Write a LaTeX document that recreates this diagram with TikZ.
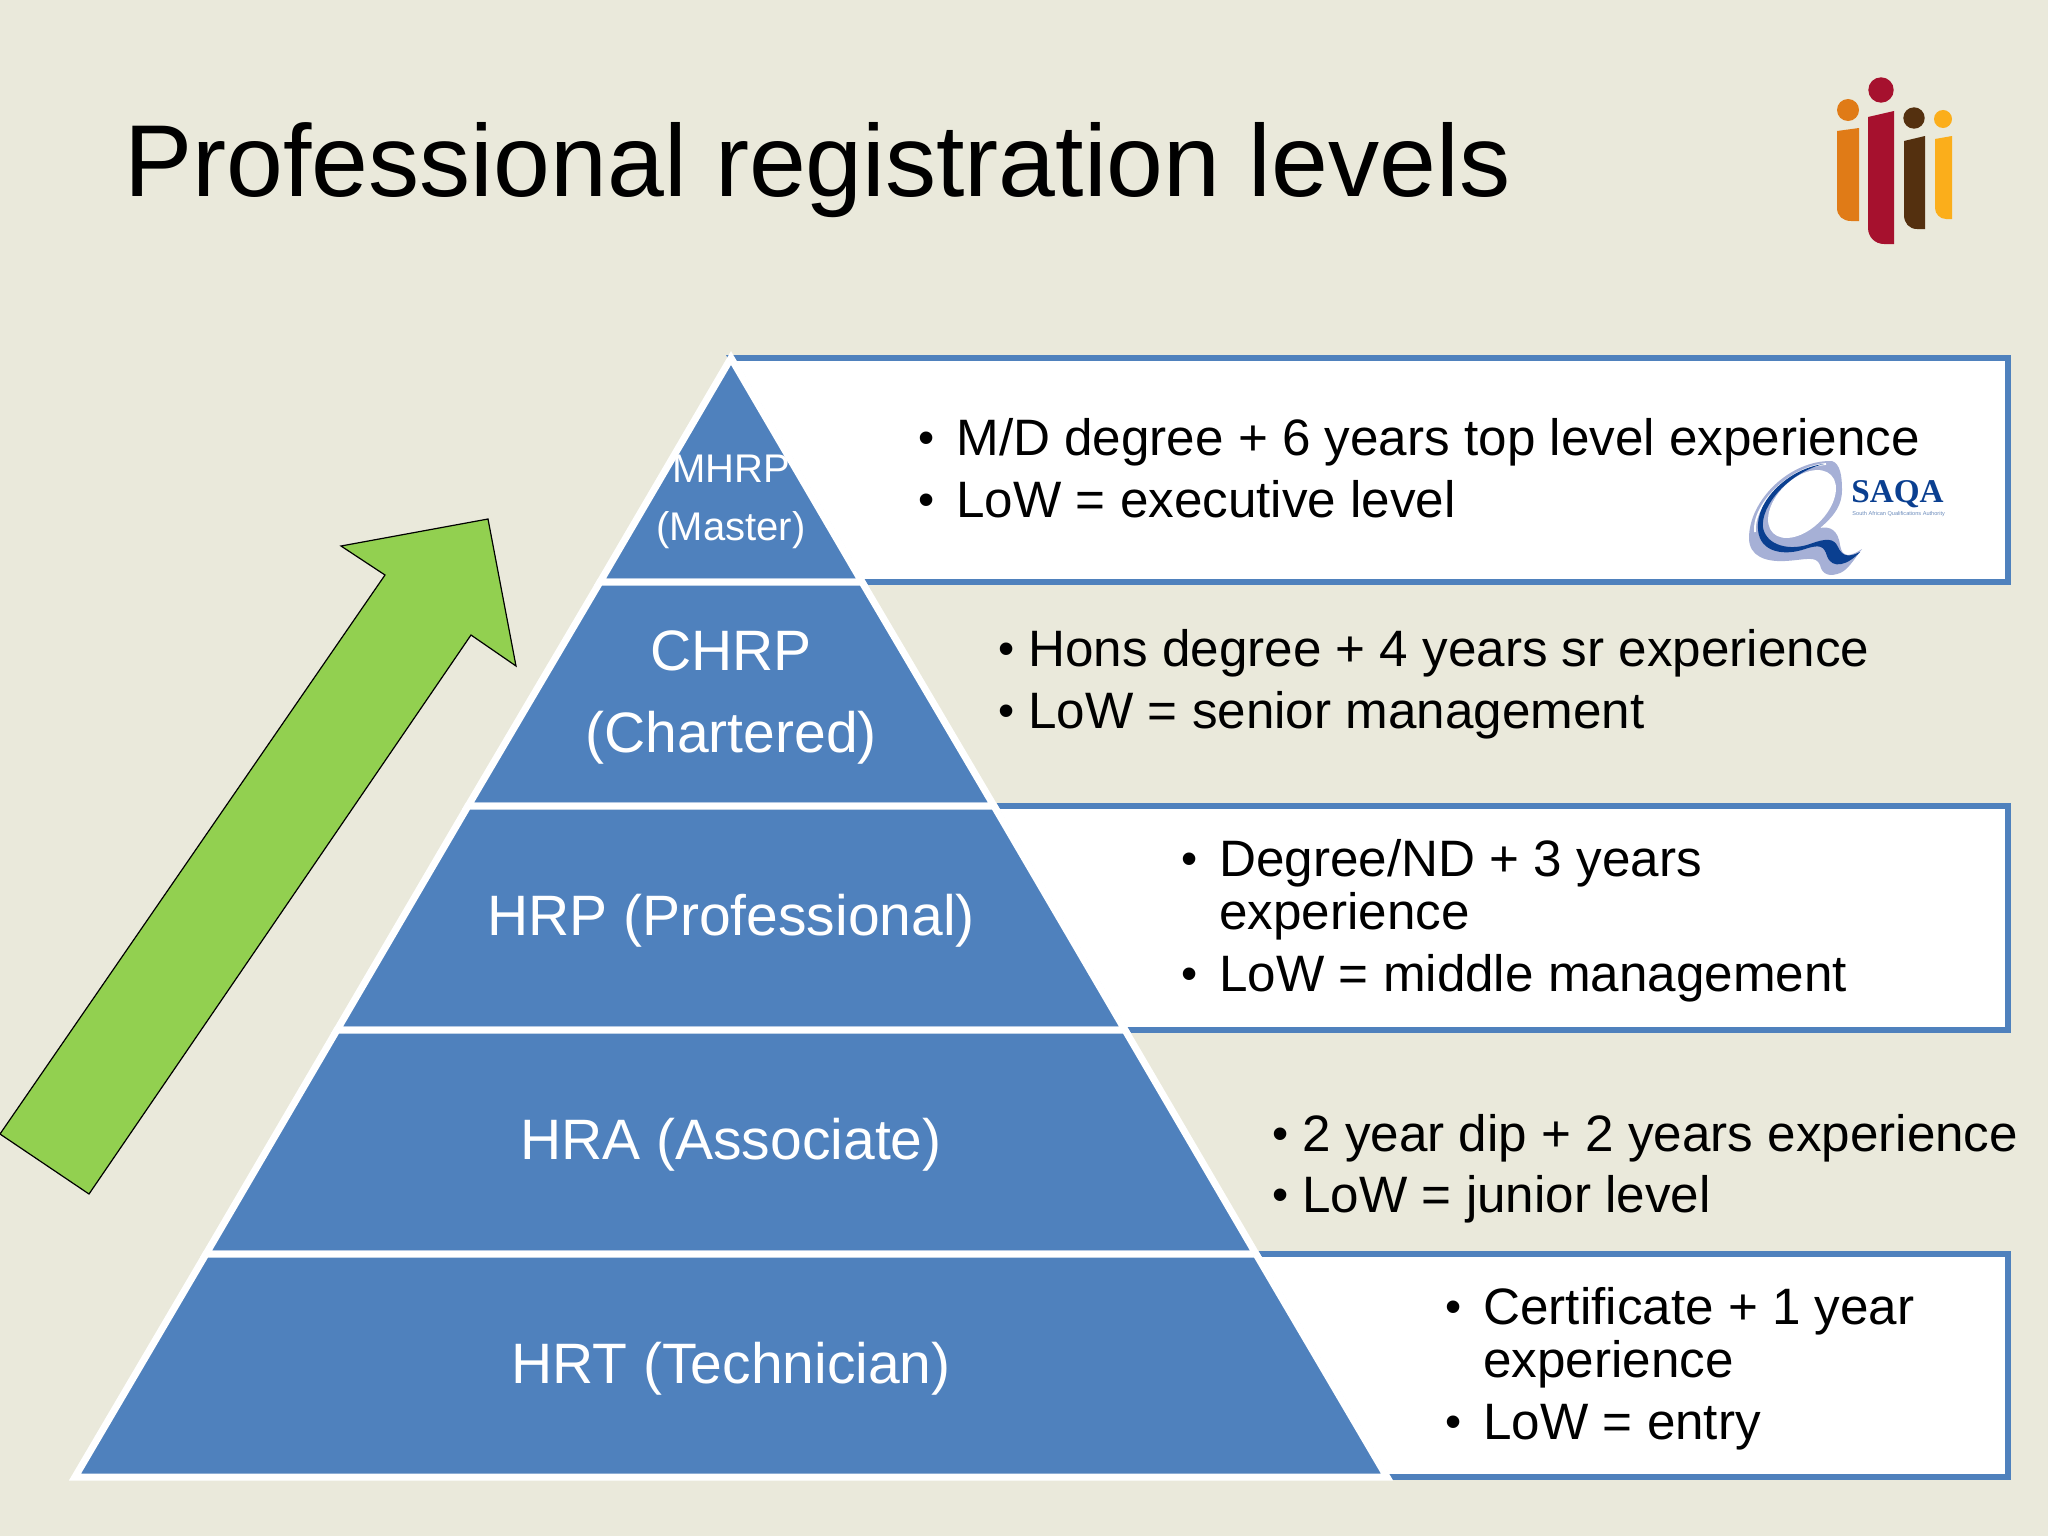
\documentclass[tikz,border=0pt]{standalone}
\usepackage{fontspec}
\setmainfont{Liberation Sans}
\newfontfamily\saqafont{Liberation Serif}
\definecolor{bgc}{HTML}{EAE9DB}
\definecolor{tier}{HTML}{4F81BD}
\definecolor{arrowg}{HTML}{92D050}
\definecolor{lgo}{HTML}{E07B17}
\definecolor{lgr}{HTML}{A6112E}
\definecolor{lgb}{HTML}{54300F}
\definecolor{lgy}{HTML}{FBAE1B}
\definecolor{qlight}{HTML}{A6B0D6}
\definecolor{qdark}{HTML}{0A3F90}
\newcommand{\bul}[1]{\llap{\raisebox{0.02em}{\scalebox{0.9}{•}}\hspace{#1}}}
\tikzset{
  tiershape/.style={fill=tier,draw=white,line width=3.5pt,line join=miter},
  boxshape/.style={fill=white,draw=tier,line width=2.8pt,line join=miter},
  tierlabel/.style={anchor=base,inner sep=0pt,text=white,font=\fontsize{28.5}{34}\selectfont},
  smalllabel/.style={anchor=base,inner sep=0pt,text=white,font=\fontsize{20}{24}\selectfont},
  bodyline/.style={anchor=base west,inner sep=0pt,text=black,font=\fontsize{25.6}{30}\selectfont},
}
\begin{document}
\begin{tikzpicture}[x=0.5pt,y=-0.5pt]
\useasboundingbox (0,0) rectangle (2048,1536);
\fill[bgc] (0,0) rectangle (2048,1536);
% title
\node[anchor=base west,inner sep=0pt,font=\fontsize{51.1}{60}\selectfont] (title) at (124,196) {Professional registration levels};
% iiii logo
\fill[lgo] (1848,110) circle (11);
\fill[lgr] (1881,90) circle (12.7);
\fill[lgb] (1914,118) circle (10.7);
\fill[lgy] (1943,119) circle (9);
\fill[lgo] (1837,131) -- (1859,128) -- (1859,221) -- (1851,221) .. controls (1843,221) and (1837,216) .. (1837,208) -- cycle;
\fill[lgr] (1868,117) -- (1894,111) -- (1894,244) -- (1884,244) .. controls (1875,244) and (1868,237) .. (1868,228) -- cycle;
\fill[lgb] (1904,141) -- (1925,136) -- (1925,229) -- (1917,229) .. controls (1909,229) and (1904,223) .. (1904,215) -- cycle;
\fill[lgy] (1935,139) -- (1952,136) -- (1952,219) -- (1946,219) .. controls (1940,219) and (1935,214) .. (1935,208) -- cycle;
% white boxes
\draw[boxshape] (731,358) -- (2008,358) -- (2008,582) -- (862,582) -- cycle;
\draw[boxshape] (994,806) -- (2008,806) -- (2008,1030) -- (1125,1030) -- cycle;
\draw[boxshape] (1256,1254) -- (2008,1254) -- (2008,1477) -- (1387,1477) -- cycle;
% green arrow
\draw[fill=arrowg,draw=black,line width=0.6pt,line join=miter] (0,1134) -- (89,1194) -- (471,635) -- (516,666) -- (488,519) -- (341,546) -- (385,575) -- cycle;
% pyramid
\draw[tiershape] (731,358) -- (862,582) -- (600,582) -- cycle;
\draw[tiershape] (600,582) -- (862,582) -- (994,806) -- (468,806) -- cycle;
\draw[tiershape] (468,806) -- (994,806) -- (1125,1030) -- (337,1030) -- cycle;
\draw[tiershape] (337,1030) -- (1125,1030) -- (1256,1254) -- (206,1254) -- cycle;
\draw[tiershape] (206,1254) -- (1256,1254) -- (1387,1477) -- (75,1477) -- cycle;
% tier labels
\node[smalllabel] (mhrp) at (731,482) {MHRP};
\node[smalllabel] (master) at (731,540) {(Master)};
\node[tierlabel] (chrp) at (731,670) {CHRP};
\node[tierlabel] (chartered) at (731,752) {(Chartered)};
\node[tierlabel] (hrp) at (731,935) {HRP (Professional)};
\node[tierlabel] (hra) at (731,1159) {HRA (Associate)};
\node[tierlabel] (hrt) at (731,1383) {HRT (Technician)};
% body text
\node[bodyline] (a1) at (956,455) {\bul{0.42em}M/D degree + 6 years top level experience};
\node[bodyline] (a2) at (956,517) {\bul{0.42em}LoW = executive level};
\node[bodyline] (b1) at (1028,666) {\bul{0.26em}Hons degree + 4 years sr experience};
\node[bodyline] (b2) at (1028,728) {\bul{0.26em}LoW = senior management};
\node[bodyline] (c1) at (1219,876) {\bul{0.42em}Degree/ND + 3 years};
\node[bodyline] (c2) at (1219,929) {experience};
\node[bodyline] (c3) at (1219,991) {\bul{0.42em}LoW = middle management};
\node[bodyline] (d1) at (1302,1151) {\bul{0.26em}2 year dip + 2 years experience};
\node[bodyline] (d2) at (1302,1212) {\bul{0.26em}LoW = junior level};
\node[bodyline] (e1) at (1483,1324) {\bul{0.42em}Certificate + 1 year};
\node[bodyline] (e2) at (1483,1377) {experience};
\node[bodyline] (e3) at (1483,1439) {\bul{0.42em}LoW = entry};
% SAQA logo
\fill[qlight] (1832,461) .. controls (1790,460) and (1749,500) .. (1749,538)
  .. controls (1749,556) and (1765,562) .. (1785,561)
  .. controls (1805,560) and (1816,555) .. (1820,565)
  .. controls (1822,575) and (1830,577) .. (1840,573)
  .. controls (1848,570) and (1855,558) .. (1862,549)
  .. controls (1850,557) and (1842,558) .. (1840,545)
  .. controls (1838,530) and (1830,526) .. (1820,528)
  .. controls (1835,515) and (1842,505) .. (1842,490)
  .. controls (1842,475) and (1840,464) .. (1832,461) -- cycle;
\fill[white,rotate around={45:(1802,504)}] (1802,504) ellipse (41 and 25);
\draw[white,line width=0.9pt] (1826,464) .. controls (1790,467) and (1752,505) .. (1755,532);
\fill[qdark] (1824,464) .. controls (1790,468) and (1755,500) .. (1758,530)
  .. controls (1760,553) and (1785,556) .. (1805,549)
  .. controls (1820,544) and (1824,546) .. (1827,556)
  .. controls (1832,570) and (1848,565) .. (1860,552)
  .. controls (1848,558) and (1842,556) .. (1838,547)
  .. controls (1834,538) and (1826,538) .. (1810,544)
  .. controls (1790,551) and (1767,546) .. (1763,528)
  .. controls (1760,505) and (1790,472) .. (1824,464) -- cycle;
\node[anchor=base west,inner sep=0pt,text=qdark,font=\saqafont\bfseries\fontsize{16.6}{18}\selectfont] (saqa) at (1851,502) {SAQA};
\node[anchor=base west,inner sep=0pt,text=qdark!60,font=\fontsize{2.8}{3}\selectfont] (saqasub) at (1852,515) {South African Qualifications Authority};
\end{tikzpicture}
\end{document}
